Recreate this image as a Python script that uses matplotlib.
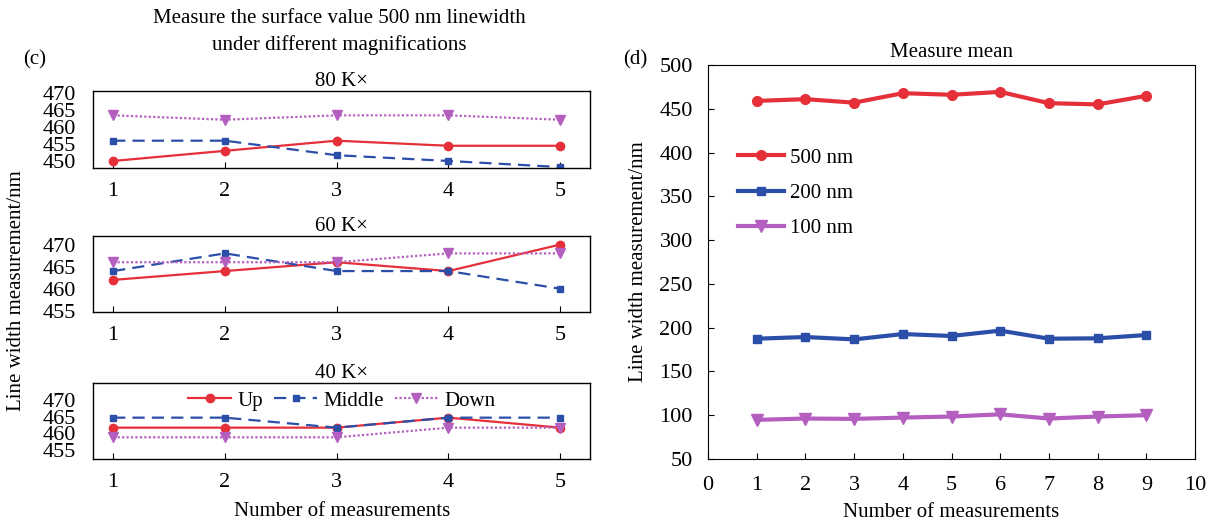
import matplotlib
matplotlib.use("Agg")
import matplotlib.pyplot as plt

plt.rcParams["font.family"] = ["Liberation Serif", "DejaVu Serif"]
plt.rcParams["mathtext.fontset"] = "stix"

RED = "#e5303a"
BLUE = "#2b4fa8"
PURPLE = "#b45fc0"

# panel (c): three magnifications, five measurements each
runs = [1, 2, 3, 4, 5]
mag_titles = ["80 K×", "60 K×", "40 K×"]
up = [
    [450.0, 453.0, 456.0, 454.5, 454.5],
    [462.0, 464.0, 466.0, 464.0, 470.0],
    [461.7, 461.7, 461.7, 464.7, 461.7],
]
middle = [
    [456.0, 456.0, 451.7, 450.0, 448.2],
    [464.0, 468.0, 464.0, 464.0, 460.0],
    [464.7, 464.7, 461.7, 464.7, 464.7],
]
down = [
    [463.5, 462.2, 463.5, 463.5, 462.2],
    [466.0, 466.0, 466.0, 468.0, 468.0],
    [458.8, 458.8, 458.8, 461.7, 461.7],
]
c_ylims = [(447.8, 470.7), (454.8, 472.0), (452.3, 475.0)]
c_yticks = [[450, 455, 460, 465, 470], [455, 460, 465, 470], [455, 460, 465, 470]]

# panel (d): mean of nine measurements
meas = [1, 2, 3, 4, 5, 6, 7, 8, 9]
mean_500 = [459.0, 461.0, 457.0, 467.8, 466.0, 469.3, 456.4, 455.0, 464.8]
mean_200 = [187.4, 189.3, 186.6, 192.7, 190.5, 196.6, 187.4, 187.8, 191.6]
mean_100 = [94.7, 96.2, 95.8, 97.3, 98.5, 101.0, 96.2, 98.5, 100.0]

FS = 15
TFS = 16

fig = plt.figure(figsize=(12.13, 5.23), dpi=100)

c_boxes = [
    [0.0767, 0.678, 0.410, 0.148],
    [0.0767, 0.404, 0.410, 0.1453],
    [0.0767, 0.1224, 0.410, 0.1447],
]
c_axes = []
for i, box in enumerate(c_boxes):
    ax = fig.add_axes(box)
    ax.plot(runs, up[i], color=RED, lw=1.6, marker="o", ms=6, label="Up")
    ax.plot(runs, middle[i], color=BLUE, lw=1.6, ls=(0, (5.5, 3.2)),
            marker="s", ms=5, label="Middle")
    ax.plot(runs, down[i], color=PURPLE, lw=1.6, ls=(0, (1, 1)),
            marker="v", ms=7, label="Down")
    ax.set_xlim(0.82, 5.27)
    ax.set_ylim(*c_ylims[i])
    ax.set_yticks(c_yticks[i])
    ax.set_xticks(runs)
    ax.set_title(mag_titles[i], fontsize=FS, pad=3)
    ax.tick_params(axis="both", labelsize=TFS, direction="in", length=4)
    ax.tick_params(axis="y", pad=12, length=0)
    ax.tick_params(axis="x", pad=10)
    for s in ax.spines.values():
        s.set_linewidth(1.0)
    c_axes.append(ax)

c_axes[2].legend(loc="center", ncol=3, frameon=False, fontsize=FS,
                 handlelength=2.1, columnspacing=0.5, handletextpad=0.3,
                 borderaxespad=0.0, bbox_to_anchor=(0.5, 0.77))
c_axes[2].set_xlabel("Number of measurements", fontsize=FS, labelpad=7)

fig.text(0.28, 0.895, "Measure the surface value 500 nm linewidth\nunder different magnifications",
         ha="center", va="bottom", fontsize=FS, linespacing=1.5)
fig.text(0.019, 0.885, "(c)", fontsize=FS, ha="left", va="center")
fig.text(0.014, 0.445, "Line width measurement/nm", rotation=90, fontsize=FS,
         ha="center", va="center")

# panel (d)
axd = fig.add_axes([0.5837, 0.1224, 0.4015, 0.7533])
axd.plot(meas, mean_500, color=RED, lw=3, marker="o", ms=7, label="500 nm")
axd.plot(meas, mean_200, color=BLUE, lw=3, marker="s", ms=6, label="200 nm")
axd.plot(meas, mean_100, color=PURPLE, lw=3, marker="v", ms=8, label="100 nm")
axd.set_xlim(0, 10)
axd.set_ylim(50, 500)
axd.set_xticks(range(0, 11))
axd.set_yticks(range(50, 501, 50))
axd.tick_params(axis="both", labelsize=TFS, direction="in", length=4)
axd.tick_params(axis="y", pad=11)
axd.tick_params(axis="x", pad=12)
axd.set_title("Measure mean", fontsize=FS, pad=6)
axd.set_xlabel("Number of measurements", fontsize=FS, labelpad=6)
axd.set_ylabel("Line width measurement/nm", fontsize=FS, labelpad=8)
axd.legend(loc="upper left", bbox_to_anchor=(0.045, 0.81), frameon=False,
           fontsize=FS, handlelength=2.2, labelspacing=0.75, handletextpad=0.3,
           borderaxespad=0.0)
fig.text(0.514, 0.885, "(d)", fontsize=FS, ha="left", va="center")

fig.savefig("out.png", dpi=100)
